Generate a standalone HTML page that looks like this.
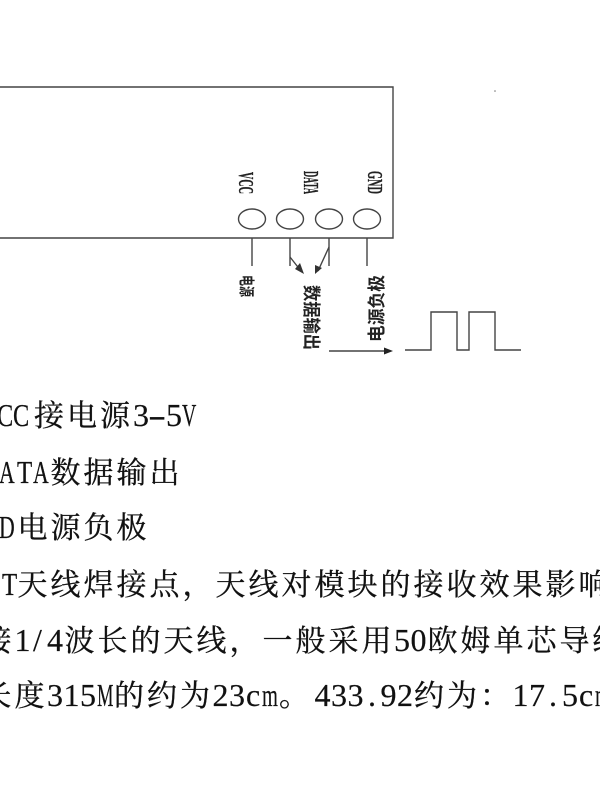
<!DOCTYPE html>
<html><head><meta charset="utf-8">
<style>
html,body{margin:0;padding:0;background:#fff;width:600px;height:800px;overflow:hidden}
svg{display:block;filter:blur(.35px)}
.t{font-family:"Noto Serif CJK SC","Liberation Serif",serif;font-size:30px;fill:#111;stroke:#111;stroke-width:.3px;transform:translateX(-1px)}
.l{font-family:"Liberation Serif",serif;font-size:32px;fill:#111;stroke:#111;stroke-width:.2px}
.c{font-family:"Liberation Sans","Noto Sans CJK SC",sans-serif;font-weight:bold;fill:#222}
.s{font-family:"Liberation Serif",serif;font-weight:bold;font-size:21px;fill:#222;stroke:#222;stroke-width:.3px}
</style></head><body>
<svg width="600" height="800" viewBox="0 0 600 800" xmlns="http://www.w3.org/2000/svg">
<rect width="600" height="800" fill="#fff"/>
<g fill="none" stroke="#444" stroke-width="1.4">
<path d="M-2 87H393V238H-2"/>
<ellipse cx="252" cy="219" rx="13.5" ry="10"/>
<ellipse cx="290" cy="219" rx="13.5" ry="10"/>
<ellipse cx="329" cy="219" rx="13.5" ry="10"/>
<ellipse cx="367" cy="219" rx="13.5" ry="10"/>
<path d="M252 238V266M290 238V266M329 238V266M367 238V266"/>
<path d="M290 257L301 271M329 247L318 271"/>
<path d="M329 351H388"/>
<path d="M405 350H431V312H457V350H469V312H495V350H521"/>
</g>
<path d="M304 274L295 269L300 263Z" fill="#333"/>
<path d="M315 274L315 265L322 268Z" fill="#333"/>
<path d="M393 351L384 347.5V354.5Z" fill="#222"/>
<circle cx="495" cy="91" r=".8" fill="#777"/>

<text class="s" transform="translate(239,172) rotate(90)" textLength="22" lengthAdjust="spacingAndGlyphs">VCC</text>
<text class="s" transform="translate(304,171) rotate(90)" textLength="23" lengthAdjust="spacingAndGlyphs">DATA</text>
<text class="s" transform="translate(368,171) rotate(90)" textLength="23" lengthAdjust="spacingAndGlyphs">GND</text>
<text class="c" font-size="16" transform="translate(241,275) rotate(90)" textLength="22" lengthAdjust="spacingAndGlyphs">电源</text>
<text class="c" font-size="18" transform="translate(305,285) rotate(90)" textLength="65" lengthAdjust="spacingAndGlyphs">数据输出</text>
<text class="c" font-size="18" transform="translate(383,342) rotate(-90)" textLength="67" lengthAdjust="spacingAndGlyphs">电源负极</text>

<!-- line 1 -->
<text class="l" transform="translate(-3,426) scale(.76,1)">C</text>
<text class="l" transform="translate(13,426) scale(.76,1)">C</text>
<text class="t" y="426" x="35 68 101">接电源</text>
<text class="l" y="426" x="133">3</text>
<text class="l" transform="translate(148,426) scale(1.7,1)">-</text>
<text class="l" y="426" x="166">5</text>
<text class="l" transform="translate(182,426) scale(.62,1)">V</text>

<!-- line 2 -->
<text class="l" transform="translate(-1,483) scale(.68,1)">A</text>
<text class="l" transform="translate(17,483) scale(.78,1)">T</text>
<text class="l" transform="translate(33,483) scale(.68,1)">A</text>
<text class="t" y="483" x="51.5 84.5 117.5 150.5">数据输出</text>

<!-- line 3 -->
<text class="l" transform="translate(-1,538) scale(.68,1)">D</text>
<text class="t" y="538" x="18.5 51.5 84.5 117.5">电源负极</text>

<!-- line 4 -->
<text class="l" transform="translate(2,595) scale(.78,1)">T</text>
<text class="t" y="595" x="18.5 51.5 84.5 117.5 150.5 183.5 216.5 249.5 282.5 315.5 348.5 381.5 414.5 447.5 480.5 513.5 546.5 579.5">天线焊接点，天线对模块的接收效果影响</text>

<!-- line 5 -->
<text class="t" y="651" x="-17.5">接</text>
<text class="l" y="651" x="14.5">1</text>
<text class="l" y="651" x="33">/</text>
<text class="l" y="651" x="47">4</text>
<text class="t" y="651" x="65.5 98.5 131.5 164.5 197.5 230.5 263.5 296.5 329.5 362.5">波长的天线，一般采用</text>
<text class="l" y="651" x="394">5</text>
<text class="l" y="651" x="410.5">0</text>
<text class="t" y="651" x="428.5 461.5 494.5 527.5 560.5 593.5">欧姆单芯导线</text>

<!-- line 6 -->
<text class="t" y="706" x="-17.5 15.5">长度</text>
<text class="l" y="706" x="47">3</text>
<text class="l" y="706" x="63.5">1</text>
<text class="l" y="706" x="80">5</text>
<text class="l" transform="translate(97,706) scale(.58,1)">M</text>
<text class="t" y="706" x="115 148 181">的约为</text>
<text class="l" y="706" x="212.5">2</text>
<text class="l" y="706" x="229">3</text>
<text class="l" y="706" x="246">c</text>
<text class="l" transform="translate(262,706) scale(.64,1)">m</text>
<text class="t" y="706" x="280">。</text>
<text class="l" y="706" x="314.5">4</text>
<text class="l" y="706" x="331">3</text>
<text class="l" y="706" x="347.5">3</text>
<text class="l" y="706" x="368">.</text>
<text class="l" y="706" x="380.5">9</text>
<text class="l" y="706" x="397">2</text>
<text class="t" y="706" x="415 448 481">约为：</text>
<text class="l" y="706" x="512.5">1</text>
<text class="l" y="706" x="529">7</text>
<text class="l" y="706" x="549">.</text>
<text class="l" y="706" x="562">5</text>
<text class="l" y="706" x="579">c</text>
<text class="l" transform="translate(595,706) scale(.64,1)">m</text>
</svg>
</body></html>
